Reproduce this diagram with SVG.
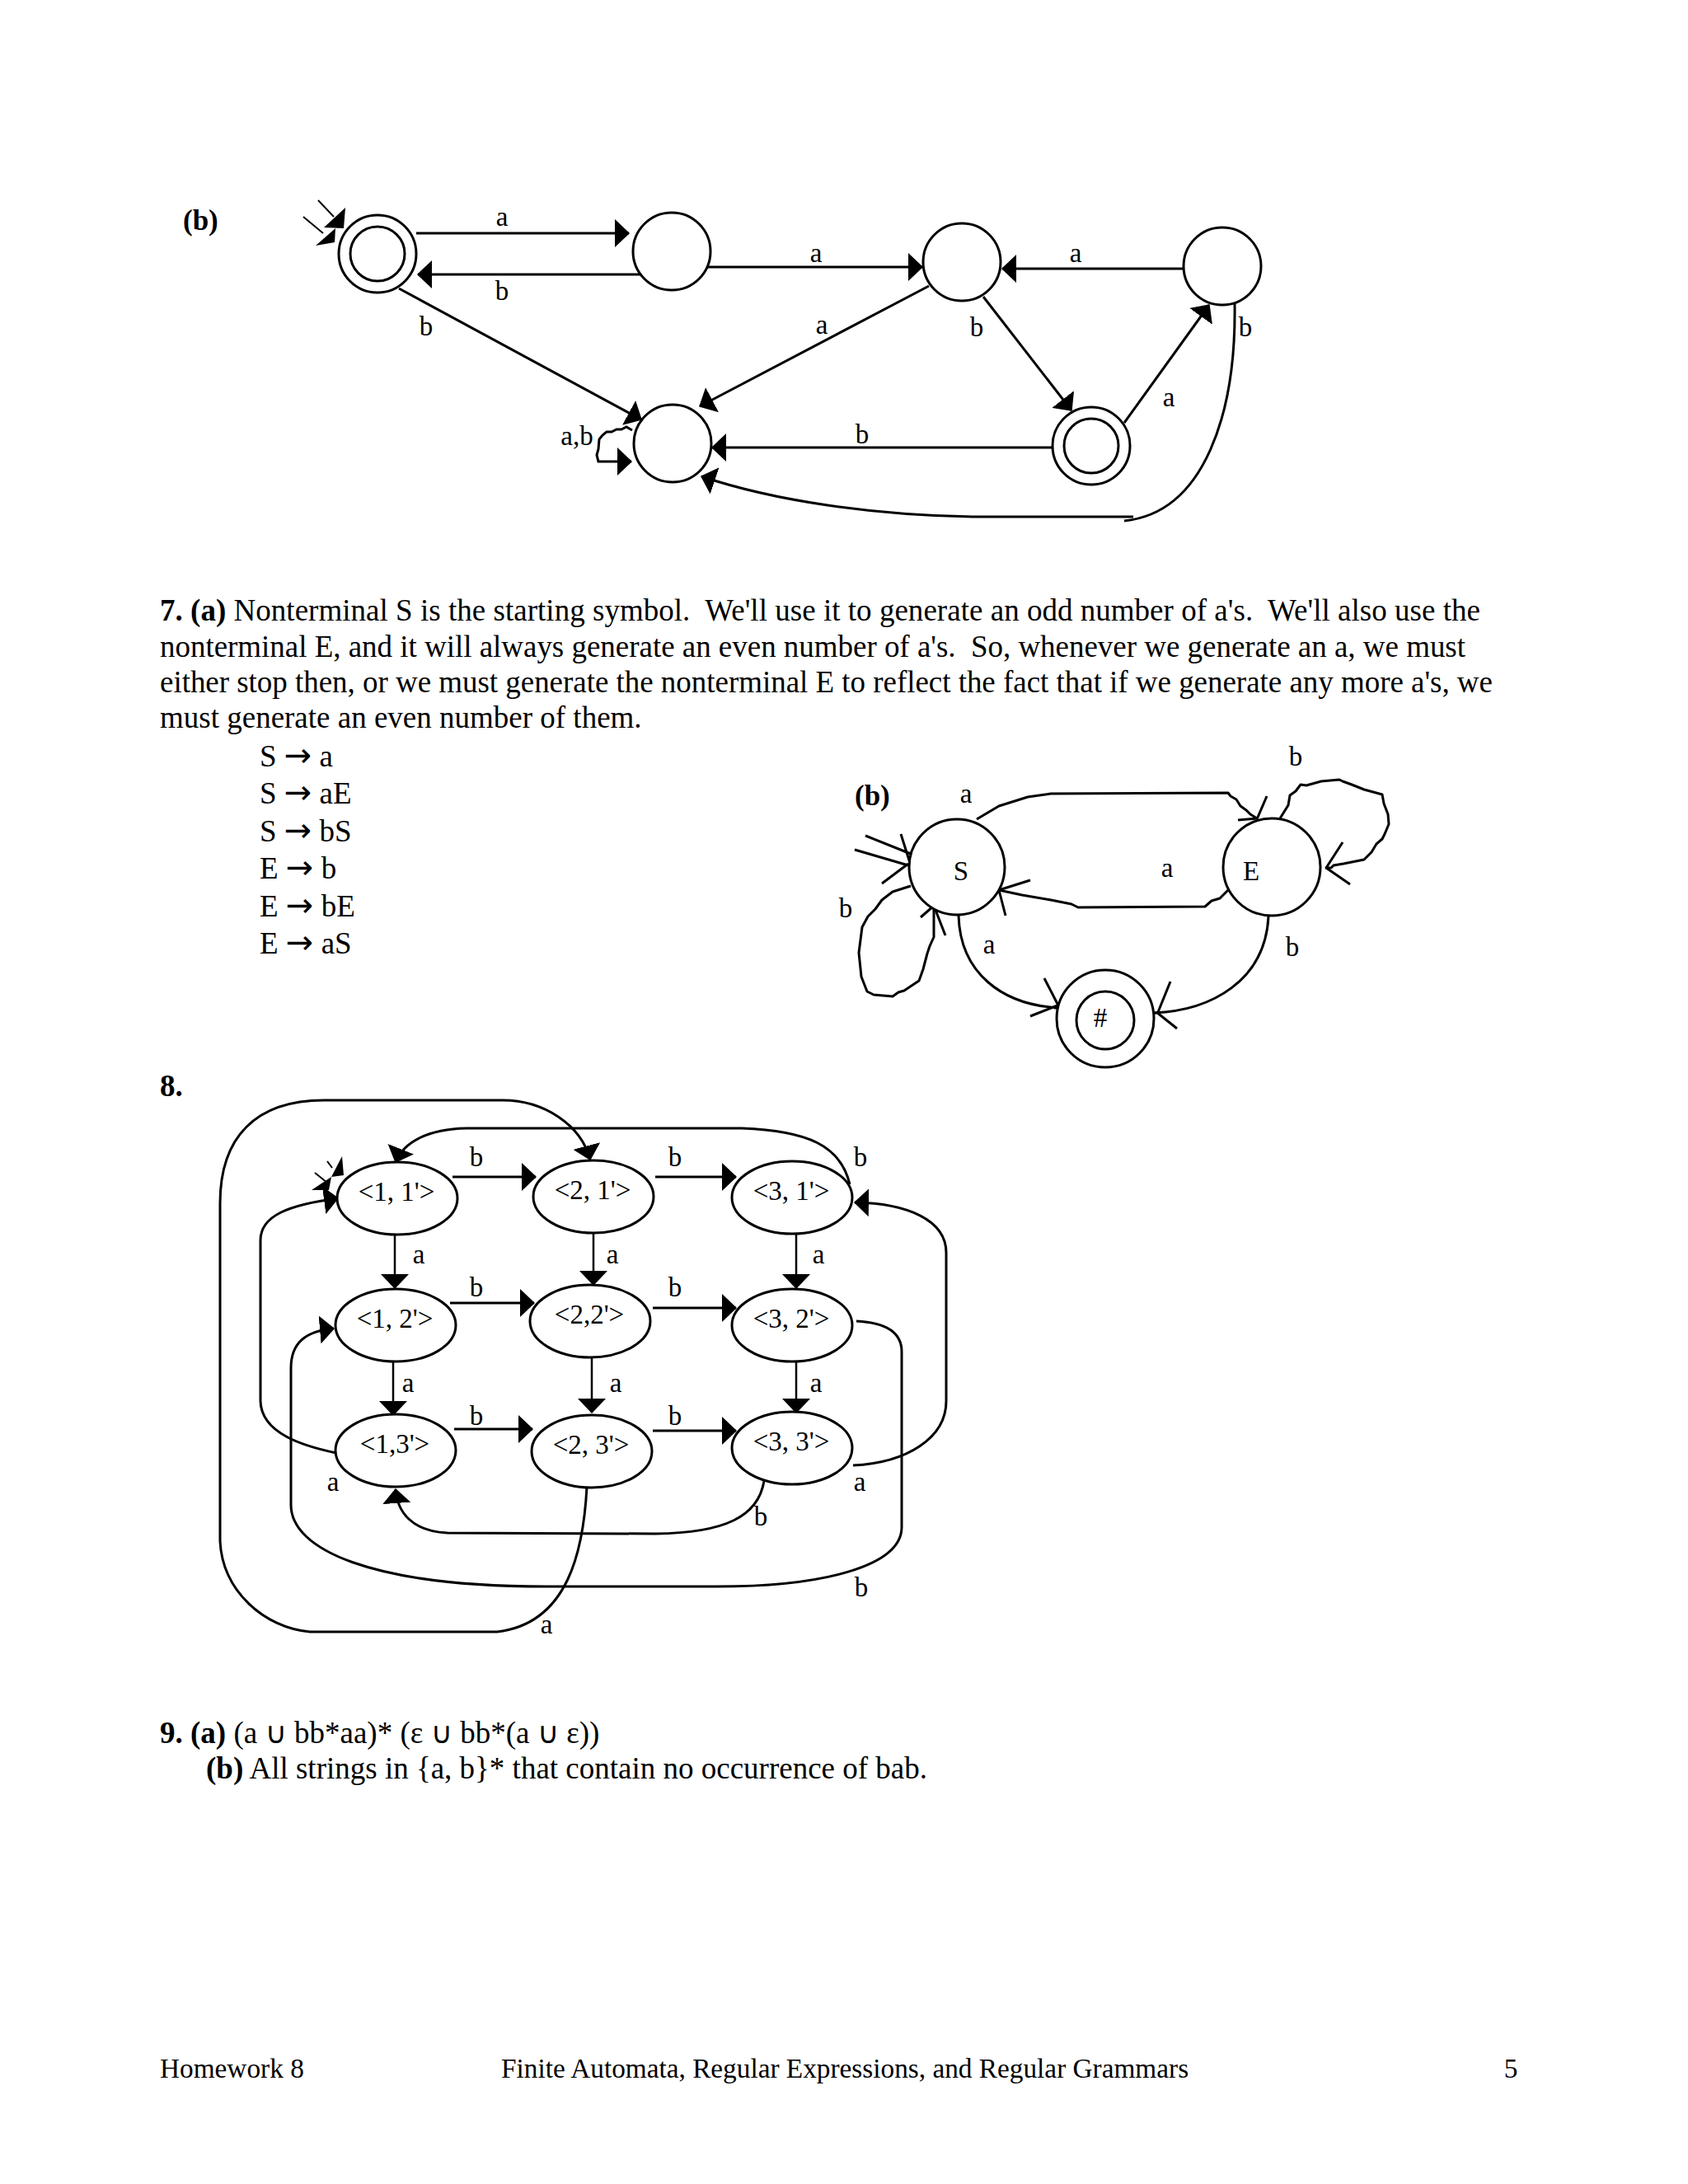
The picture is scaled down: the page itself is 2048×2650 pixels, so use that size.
<svg xmlns="http://www.w3.org/2000/svg" width="2048" height="2650" viewBox="0 0 2048 2650">
<style>
text{font-family:"Liberation Serif","Times New Roman",serif;fill:#000}
.body{font-size:37px;white-space:pre}
.bold{font-weight:bold}
.sym{font-family:"DejaVu Sans",sans-serif;font-size:36px}
.arr{font-family:"DejaVu Sans",sans-serif;font-size:40px}
.lbl{font-size:33px;text-anchor:middle}
.nl{font-size:33px;text-anchor:middle}
.foot{font-size:33.3px;white-space:pre}
.st{fill:#fff;stroke:#000;stroke-width:3}
.e{fill:none;stroke:#000;stroke-width:3;marker-end:url(#ah)}
.et{fill:none;stroke:#000;stroke-width:2.5;marker-end:url(#ah)}
.p{fill:none;stroke:#000;stroke-width:3;stroke-linejoin:round}
.thin{fill:none;stroke:#000;stroke-width:2}
</style>
<defs>
<marker id="ah" viewBox="0 0 18 34" refX="17" refY="17" markerWidth="18" markerHeight="34" markerUnits="userSpaceOnUse" orient="auto">
<path d="M0,0 L18,17 L0,34 Z" fill="#000"/>
</marker>
</defs>
<rect width="2048" height="2650" fill="#fff"/>

<!-- ===== Part (b) top DFA ===== -->
<text class="body bold" x="222" y="279" style="font-size:35px">(b)</text>
<g id="top-edges">
<path class="e" d="M505,283 L763,283"/>
<path class="e" d="M778,333 L507,333"/>
<path class="e" d="M484,350 L778,509"/>
<path class="e" d="M856,324 L1119,324"/>
<path class="e" d="M1436,326 L1216,326"/>
<path class="e" d="M1127,347 L849,493"/>
<path class="e" d="M1193,360 L1300,498"/>
<path class="e" d="M1364,513 L1467,370"/>
<path class="e" d="M1277,543 L864,543"/>
<path class="e" d="M1498,368 C1500,500 1462,622 1364,632 M1375,627 L1180,627 C1060,625 940,608 851,578"/>
<path class="e" d="M767,522 L760,518 L754,521 L748,521 L742,524 L736,524 L731,528 L727,533 L726,545 L724,552 L726,560 L766,560"/>
<path class="thin" d="M386,243 L405,263 M368,263 L392,283"/>
<polygon points="419,252 417,277 393,276" fill="#000"/>
<polygon points="407,277 406,294 383,298" fill="#000"/>
<text class="lbl" x="609" y="274">a</text>
<text class="lbl" x="609" y="364">b</text>
<text class="lbl" x="517" y="407">b</text>
<text class="lbl" x="990" y="318">a</text>
<text class="lbl" x="1305" y="318">a</text>
<text class="lbl" x="997" y="405">a</text>
<text class="lbl" x="1185" y="408">b</text>
<text class="lbl" x="1418" y="493">a</text>
<text class="lbl" x="1046" y="538">b</text>
<text class="lbl" x="1511" y="408">b</text>
<text class="lbl" x="700" y="540">a,b</text>
</g>
<g id="q0"><circle class="st" cx="458" cy="308" r="47"/><circle class="st" cx="458" cy="308" r="33"/></g>
<g id="q1"><circle class="st" cx="815" cy="305" r="47"/></g>
<g id="q2"><circle class="st" cx="1167" cy="318" r="47"/></g>
<g id="q3"><circle class="st" cx="1483" cy="323" r="47"/></g>
<g id="qd"><circle class="st" cx="816" cy="538" r="47"/></g>
<g id="q4"><circle class="st" cx="1324" cy="541" r="47"/><circle class="st" cx="1324" cy="541" r="33"/></g>

<!-- ===== Part 7 text ===== -->
<text class="body" x="194" y="753" textLength="1602" lengthAdjust="spacing"><tspan class="bold">7. (a)</tspan> Nonterminal S is the starting symbol.  We'll use it to generate an odd number of a's.  We'll also use the</text>
<text class="body" x="194" y="797" textLength="1584" lengthAdjust="spacing">nonterminal E, and it will always generate an even number of a's.  So, whenever we generate an a, we must</text>
<text class="body" x="194" y="840" textLength="1617" lengthAdjust="spacing">either stop then, or we must generate the nonterminal E to reflect the fact that if we generate any more a's, we</text>
<text class="body" x="194" y="883">must generate an even number of them.</text>
<text class="body" x="315" y="930">S <tspan class="arr">→</tspan> a</text>
<text class="body" x="315" y="975">S <tspan class="arr">→</tspan> aE</text>
<text class="body" x="315" y="1021">S <tspan class="arr">→</tspan> bS</text>
<text class="body" x="315" y="1066">E <tspan class="arr">→</tspan> b</text>
<text class="body" x="315" y="1112">E <tspan class="arr">→</tspan> bE</text>
<text class="body" x="315" y="1157">E <tspan class="arr">→</tspan> aS</text>

<!-- ===== Part 7(b) diagram ===== -->
<text class="body bold" x="1037" y="977" style="font-size:35px">(b)</text>
<g id="g7-edges">
<path class="p" d="M1185,994 L1212,978 L1247,967 L1275,963 L1490,962 L1493,966 L1500,970 L1505,978 L1512,983 L1517,988 L1525,993"/>
<path class="p" d="M1537,966 L1525,994 M1502,995 L1526,993"/>
<path class="p" d="M1490,1080 L1480,1090 L1470,1093 L1462,1100 L1308,1101 L1300,1097 L1275,1092 L1240,1086 L1212,1080"/>
<path class="p" d="M1250,1068 L1212,1080 L1220,1111"/>
<path class="p" d="M1105,1075 L1083,1082 L1070,1092 L1062,1103 L1053,1112 L1046,1125 L1042,1156 L1045,1185 L1052,1203 L1060,1207 L1083,1209 L1090,1204 L1097,1202 L1115,1190 L1120,1176 L1125,1157 L1128,1148 L1133,1137 L1133,1099"/>
<path class="p" d="M1117,1113 L1133,1099 L1147,1135"/>
<path class="p" d="M1050,1014 L1105,1036 M1037,1031 L1102,1050 M1093,1012 L1104,1047 M1070,1072 L1102,1048"/>
<path class="p" d="M1163,1111 C1165,1180 1215,1220 1287,1223"/>
<path class="p" d="M1267,1187 L1285,1222 M1250,1233 L1283,1220 M1279,1223 L1291,1223"/>
<path class="p" d="M1539,1112 C1535,1190 1470,1226 1400,1229"/>
<path class="p" d="M1420,1191 L1405,1228 M1428,1248 L1403,1228 M1395,1229 L1406,1229"/>
<path class="p" d="M1553,993 L1558,985 L1563,977 L1565,965 L1572,960 L1578,952 L1585,953 L1603,948 L1625,946 L1629,948 L1640,952 L1655,958 L1677,964 L1679,975 L1684,988 L1685,1000 L1680,1012 L1677,1018 L1670,1024 L1664,1034 L1655,1043 L1630,1048 L1618,1050 L1615,1053 L1608,1053"/>
<path class="p" d="M1629,1022 L1609,1053 L1638,1073"/>
<text class="lbl" x="1172" y="974">a</text>
<text class="lbl" x="1416" y="1064">a</text>
<text class="lbl" x="1026" y="1113">b</text>
<text class="lbl" x="1200" y="1157">a</text>
<text class="lbl" x="1572" y="929">b</text>
<text class="lbl" x="1568" y="1160">b</text>
</g>
<g id="nS"><circle class="st" cx="1161" cy="1052" r="58"/><text class="lbl" x="1166" y="1068">S</text></g>
<g id="nE"><circle class="st" cx="1543" cy="1052" r="59"/><text class="lbl" x="1518" y="1068">E</text></g>
<g id="nH"><circle class="st" cx="1341" cy="1236" r="59"/><circle class="st" cx="1341" cy="1238" r="35"/><text class="lbl" x="1335" y="1246">#</text></g>

<!-- ===== Part 8 ===== -->
<text class="body bold" x="194" y="1330">8.</text>
<g id="g8-edges">
<path class="e" d="M549,1428 L650,1428"/>
<path class="e" d="M795,1428 L893,1428"/>
<path class="e" d="M546,1581 L648,1581"/>
<path class="e" d="M792,1587 L893,1587"/>
<path class="e" d="M551,1734 L646,1734"/>
<path class="e" d="M792,1736 L893,1736"/>
<path class="et" d="M479,1498 L479,1563"/>
<path class="et" d="M720,1497 L720,1559"/>
<path class="et" d="M966,1498 L966,1563"/>
<path class="et" d="M477,1650 L477,1717"/>
<path class="et" d="M718,1648 L718,1714"/>
<path class="et" d="M966,1652 L966,1714"/>
<path class="e" d="M408,1763 C370,1755 317,1740 316,1700 L316,1505 C316,1475 350,1462 410,1454"/>
<path class="e" d="M1031,1437 C1020,1390 980,1372 900,1369 L566,1369 C520,1370 490,1385 480,1410"/>
<path class="e" d="M712,1804 C708,1880 690,1970 603,1980 L376,1980 C320,1975 270,1930 267,1870 L267,1460 C267,1380 310,1335 393,1335 L610,1335 C660,1335 705,1365 716,1407"/>
<path class="e" d="M1039,1603 C1080,1605 1094,1620 1094,1640 L1094,1853 C1094,1900 1000,1925 870,1925 L663,1925 C450,1925 353,1880 353,1826 L353,1660 C353,1630 370,1615 405,1612"/>
<path class="e" d="M1035,1778 C1100,1775 1148,1745 1148,1700 L1148,1520 C1148,1480 1100,1460 1037,1459"/>
<path class="e" d="M927,1797 C920,1840 880,1860 795,1861 L543,1860 C500,1858 482,1835 480,1807"/>
<path class="thin" d="M382,1423 L397,1435 M397,1409 L403,1417"/>
<polygon points="415,1403 417,1426 402,1428" fill="#000"/>
<polygon points="402,1428 399,1444 378,1444" fill="#000"/>
<text class="lbl" x="578" y="1415">b</text>
<text class="lbl" x="819" y="1415">b</text>
<text class="lbl" x="1044" y="1415">b</text>
<text class="lbl" x="578" y="1573">b</text>
<text class="lbl" x="819" y="1573">b</text>
<text class="lbl" x="578" y="1729">b</text>
<text class="lbl" x="819" y="1729">b</text>
<text class="lbl" x="508" y="1533">a</text>
<text class="lbl" x="743" y="1533">a</text>
<text class="lbl" x="993" y="1533">a</text>
<text class="lbl" x="495" y="1689">a</text>
<text class="lbl" x="747" y="1689">a</text>
<text class="lbl" x="990" y="1689">a</text>
<text class="lbl" x="404" y="1809">a</text>
<text class="lbl" x="1043" y="1809">a</text>
<text class="lbl" x="923" y="1851">b</text>
<text class="lbl" x="1045" y="1937">b</text>
<text class="lbl" x="663" y="1982">a</text>
</g>
<g id="n11"><ellipse class="st" cx="482" cy="1454" rx="73" ry="44"/><text class="nl" x="481" y="1457">&lt;1, 1'&gt;</text></g>
<g id="n21"><ellipse class="st" cx="720" cy="1452" rx="73" ry="44"/><text class="nl" x="719" y="1455">&lt;2, 1'&gt;</text></g>
<g id="n31"><ellipse class="st" cx="961" cy="1453" rx="73" ry="44"/><text class="nl" x="960" y="1456">&lt;3, 1'&gt;</text></g>
<g id="n12"><ellipse class="st" cx="480" cy="1608" rx="73" ry="44"/><text class="nl" x="479" y="1611">&lt;1, 2'&gt;</text></g>
<g id="n22"><ellipse class="st" cx="716" cy="1603" rx="73" ry="44"/><text class="nl" x="715" y="1606">&lt;2,2'&gt;</text></g>
<g id="n32"><ellipse class="st" cx="961" cy="1608" rx="73" ry="44"/><text class="nl" x="960" y="1611">&lt;3, 2'&gt;</text></g>
<g id="n13"><ellipse class="st" cx="480" cy="1760" rx="73" ry="44"/><text class="nl" x="479" y="1763">&lt;1,3'&gt;</text></g>
<g id="n23"><ellipse class="st" cx="718" cy="1761" rx="73" ry="44"/><text class="nl" x="717" y="1764">&lt;2, 3'&gt;</text></g>
<g id="n33"><ellipse class="st" cx="961" cy="1757" rx="73" ry="44"/><text class="nl" x="960" y="1760">&lt;3, 3'&gt;</text></g>

<!-- ===== Part 9 ===== -->
<text class="body" x="194" y="2115"><tspan class="bold">9. (a)</tspan> (a <tspan class="sym">∪</tspan> bb*aa)* (ε <tspan class="sym">∪</tspan> bb*(a <tspan class="sym">∪</tspan> ε))</text>
<text class="body" x="250" y="2158"><tspan class="bold">(b)</tspan> All strings in {a, b}* that contain no occurrence of bab.</text>

<!-- ===== Footer ===== -->
<text class="foot" x="194" y="2521">Homework 8</text>
<text class="foot" x="608" y="2521">Finite Automata, Regular Expressions, and Regular Grammars</text>
<text class="foot" x="1833" y="2521" text-anchor="middle">5</text>
</svg>
